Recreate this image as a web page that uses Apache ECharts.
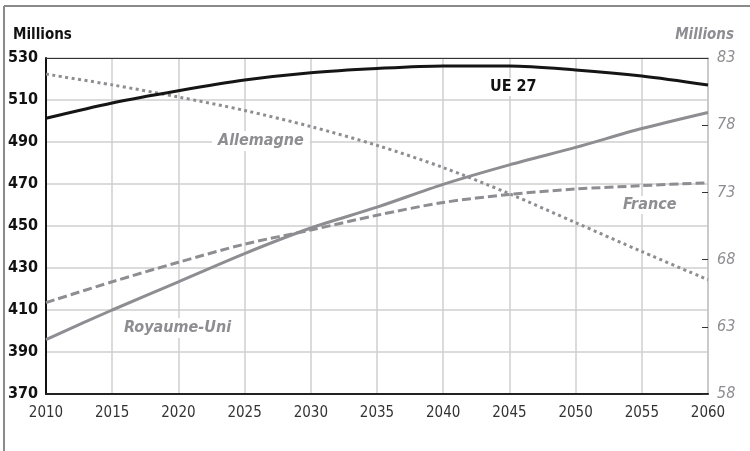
<!DOCTYPE html>
<html><head><meta charset="utf-8">
<script src="https://cdn.jsdelivr.net/npm/echarts@6/dist/echarts.min.js"></script>
<style>html,body{margin:0;padding:0;background:#fff}#c{width:750px;height:451px}</style>
</head><body><div id="c"></div>
<script>
var years = [2010,2015,2020,2025,2030,2035,2040,2045,2050,2055,2060];
var ue27 = [501.3,508.6,514.4,519.5,523.0,525.0,526.2,526.2,524.3,521.4,517.1];
var allemagne = [81.8,81.0,80.1,79.1,77.9,76.5,74.85,72.9,70.75,68.6,66.5];
var royaumeUni = [62.05,64.25,66.35,68.45,70.35,71.9,73.6,75.05,76.35,77.75,78.95];
var france = [64.8,66.35,67.8,69.15,70.2,71.3,72.25,72.85,73.25,73.5,73.72];
var leftTicks = [370,530,20];
var rightTicks = [58,83,5];

var FONT = '"Liberation Sans Narrow","DejaVu Sans Condensed","Roboto",sans-serif';
var GRAY = '#8e8e92';
function pairs(v){return years.map(function(y,i){return [y,v[i]];});}

var chart = echarts.init(document.getElementById('c'));
chart.setOption({
  animation:false,
  backgroundColor:'#fff',
  grid:{left:46,right:42,top:58,bottom:57},
  xAxis:[{
    type:'value',min:2010,max:2060,interval:5,position:'bottom',
    axisLine:{lineStyle:{color:'#222',width:2}},
    axisTick:{show:false},
    splitLine:{lineStyle:{color:'#cfcfcf',width:1.5}},
    axisLabel:{color:'#333',fontFamily:FONT,fontSize:15,margin:12,formatter:function(v){return String(v);}}
  },{
    type:'value',min:2010,max:2060,interval:5,position:'top',
    axisLine:{lineStyle:{color:'#333',width:1.2}},
    axisTick:{show:false},axisLabel:{show:false},splitLine:{show:false}
  }],
  yAxis:[{
    type:'value',min:leftTicks[0],max:leftTicks[1],interval:leftTicks[2],position:'left',
    axisLine:{show:true,lineStyle:{color:'#111',width:2}},
    axisTick:{show:false},
    splitLine:{lineStyle:{color:'#cfcfcf',width:1.5}},
    axisLabel:{color:'#111',fontFamily:FONT,fontSize:16,fontWeight:'bold',margin:8}
  },{
    type:'value',min:rightTicks[0],max:rightTicks[1],interval:rightTicks[2],position:'right',
    axisLine:{show:true,lineStyle:{color:'#c4c4c4',width:1.5}},
    axisTick:{show:true,inside:true,length:6,lineStyle:{color:'#333',width:1}},
    splitLine:{show:false},
    axisLabel:{color:GRAY,fontFamily:FONT,fontSize:16,fontStyle:'italic',margin:9}
  }],
  series:[
    {name:'Allemagne',type:'line',yAxisIndex:1,data:pairs(allemagne),symbol:'none',smooth:0.3,
      lineStyle:{color:GRAY,width:3,type:[3,3.5]},z:3},
    {name:'France',type:'line',yAxisIndex:1,data:pairs(france),symbol:'none',smooth:0.3,
      lineStyle:{color:GRAY,width:3,type:[9,4]},z:3},
    {name:'Royaume-Uni',type:'line',yAxisIndex:1,data:pairs(royaumeUni),symbol:'none',smooth:0.3,
      lineStyle:{color:GRAY,width:3},z:3},
    {name:'UE 27',type:'line',yAxisIndex:0,data:pairs(ue27),symbol:'none',smooth:0.3,
      lineStyle:{color:'#151515',width:3},z:4}
  ],
  graphic:[
    {type:'line',shape:{x1:4,y1:6,x2:750,y2:6},style:{stroke:'#8a8a8a',lineWidth:2},z:10},
    {type:'line',shape:{x1:4,y1:6,x2:4,y2:451},style:{stroke:'#8a8a8a',lineWidth:2},z:10},
    {type:'text',left:13,top:28,style:{text:'Millions',font:'bold 15px '+FONT,fill:'#111'}},
    {type:'text',right:16,top:28,style:{text:'Millions',font:'italic bold 15px '+FONT,fill:GRAY}},
    {type:'text',left:488,top:78,z:20,style:{text:'UE 27',font:'bold 16px '+FONT,fill:'#111',backgroundColor:'#fff',padding:[1,2]}},
    {type:'text',left:212,top:131,z:20,style:{text:'Allemagne',font:'italic bold 16px '+FONT,fill:GRAY,backgroundColor:'#fff',padding:[2,6]}},
    {type:'text',left:621,top:196,z:20,style:{text:'France',font:'italic bold 16px '+FONT,fill:GRAY,backgroundColor:'#fff',padding:[1,2]}},
    {type:'text',left:120,top:318,z:20,style:{text:'Royaume-Uni',font:'italic bold 16px '+FONT,fill:GRAY,backgroundColor:'#fff',padding:[2,4]}}
  ]
});
</script>
</body></html>
